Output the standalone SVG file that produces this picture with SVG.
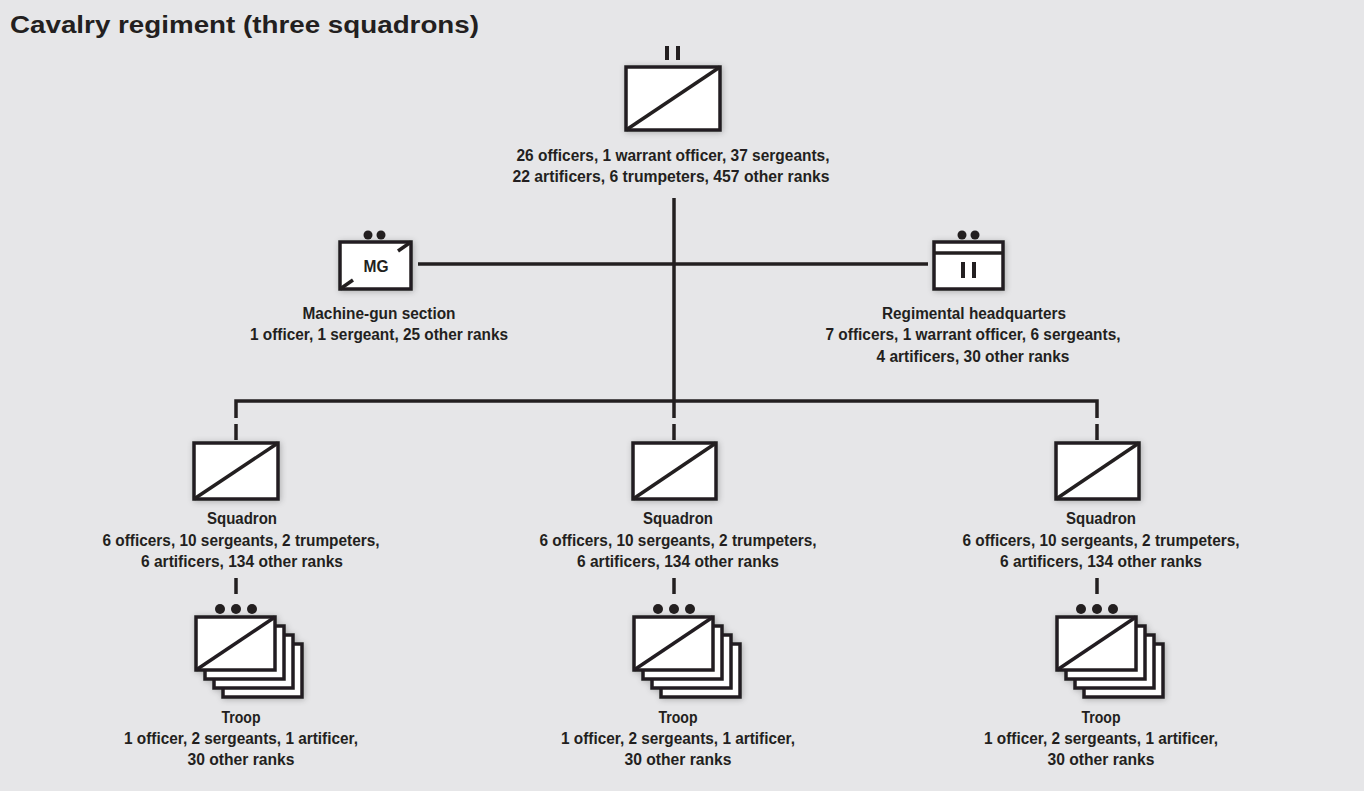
<svg xmlns="http://www.w3.org/2000/svg" width="1364" height="791" viewBox="0 0 1364 791">
<style>
text{font-family:"Liberation Sans",Arial,sans-serif;font-weight:bold;font-size:16px;fill:#231f20;text-anchor:middle}
.b{fill:#fff;stroke:#231f20;stroke-width:3.5}
.l{stroke:#231f20;stroke-width:3.5;fill:none}
.d{fill:#231f20}
</style>
<defs>
<filter id="sh" x="-20%" y="-20%" width="140%" height="140%"><feGaussianBlur in="SourceAlpha" stdDeviation="3"/><feOffset dx="1" dy="1"/><feComponentTransfer><feFuncA type="linear" slope="0.25"/></feComponentTransfer><feMerge><feMergeNode/><feMergeNode in="SourceGraphic"/></feMerge></filter>
<g id="troop">
<rect class="b" x="27" y="27" width="79" height="53"/>
<rect class="b" x="18" y="18" width="79" height="53"/>
<rect class="b" x="9" y="9" width="79" height="53"/>
<rect class="b" x="0" y="0" width="79" height="53"/>
<line class="l" x1="0" y1="53" x2="79" y2="0"/>
</g>
</defs>
<rect width="1364" height="791" fill="#e6e6e8"/>
<text x="10" y="33" style="font-size:24px;text-anchor:start" textLength="469" lengthAdjust="spacingAndGlyphs">Cavalry regiment (three squadrons)</text>
<g id="connectors">
<line class="l" x1="674" y1="198" x2="674" y2="418"/>
<line class="l" x1="418" y1="264" x2="928" y2="264"/>
<polyline class="l" points="236,418 236,401 1097,401 1097,418"/>
<line class="l" x1="236" y1="424" x2="236" y2="440"/>
<line class="l" x1="674" y1="424" x2="674" y2="440"/>
<line class="l" x1="1097" y1="424" x2="1097" y2="440"/>
<line class="l" x1="236" y1="578" x2="236" y2="594"/>
<line class="l" x1="674" y1="578" x2="674" y2="594"/>
<line class="l" x1="1097" y1="578" x2="1097" y2="594"/>
</g>
<g id="regiment">
<rect x="665" y="46" width="4" height="14" class="d"/><rect x="676" y="46" width="4" height="14" class="d"/>
<g filter="url(#sh)"><rect class="b" x="626" y="67" width="94" height="63"/></g>
<line class="l" x1="626" y1="130" x2="720" y2="67"/>
<text x="673" y="161" textLength="313" lengthAdjust="spacingAndGlyphs">26 officers, 1 warrant officer, 37 sergeants,</text>
<text x="671" y="182" textLength="317" lengthAdjust="spacingAndGlyphs">22 artificers, 6 trumpeters, 457 other ranks</text>
</g>
<g id="mg">
<circle class="d" cx="368" cy="235" r="4.5"/><circle class="d" cx="381" cy="235" r="4.5"/>
<g filter="url(#sh)"><rect class="b" x="340" y="242" width="71" height="47"/></g>
<line class="l" x1="398" y1="251" x2="411" y2="242"/><line class="l" x1="340" y1="289" x2="353" y2="280"/>
<text x="376" y="272" textLength="25" lengthAdjust="spacingAndGlyphs">MG</text>
<text x="379" y="319" textLength="153" lengthAdjust="spacingAndGlyphs">Machine-gun section</text>
<text x="379" y="340" textLength="258" lengthAdjust="spacingAndGlyphs">1 officer, 1 sergeant, 25 other ranks</text>
</g>
<g id="hq">
<circle class="d" cx="962" cy="235" r="4.5"/><circle class="d" cx="975" cy="235" r="4.5"/>
<g filter="url(#sh)"><rect class="b" x="934" y="242" width="69" height="47"/></g>
<line class="l" x1="934" y1="253" x2="1003" y2="253"/>
<rect x="961" y="262" width="4" height="16" class="d"/><rect x="972" y="262" width="4" height="16" class="d"/>
<text x="974" y="319" textLength="184" lengthAdjust="spacingAndGlyphs">Regimental headquarters</text>
<text x="973" y="340" textLength="295" lengthAdjust="spacingAndGlyphs">7 officers, 1 warrant officer, 6 sergeants,</text>
<text x="973" y="362" textLength="193" lengthAdjust="spacingAndGlyphs">4 artificers, 30 other ranks</text>
</g>
<g id="sq1" transform="translate(236,0)">
<g filter="url(#sh)"><rect class="b" x="-42" y="443" width="84" height="56"/></g>
<line class="l" x1="-42" y1="499" x2="42" y2="443"/>
<text x="6" y="524" textLength="70" lengthAdjust="spacingAndGlyphs">Squadron</text>
<text x="5" y="546" textLength="277" lengthAdjust="spacingAndGlyphs">6 officers, 10 sergeants, 2 trumpeters,</text>
<text x="6" y="567" textLength="202" lengthAdjust="spacingAndGlyphs">6 artificers, 134 other ranks</text>
</g>
<g id="sq2" transform="translate(674,0)">
<g filter="url(#sh)"><rect class="b" x="-41" y="443" width="83" height="56"/></g>
<line class="l" x1="-41" y1="499" x2="42" y2="443"/>
<text x="4" y="524" textLength="70" lengthAdjust="spacingAndGlyphs">Squadron</text>
<text x="4" y="546" textLength="277" lengthAdjust="spacingAndGlyphs">6 officers, 10 sergeants, 2 trumpeters,</text>
<text x="4" y="567" textLength="202" lengthAdjust="spacingAndGlyphs">6 artificers, 134 other ranks</text>
</g>
<g id="sq3" transform="translate(1097,0)">
<g filter="url(#sh)"><rect class="b" x="-41" y="443" width="83" height="56"/></g>
<line class="l" x1="-41" y1="499" x2="42" y2="443"/>
<text x="4" y="524" textLength="70" lengthAdjust="spacingAndGlyphs">Squadron</text>
<text x="4" y="546" textLength="277" lengthAdjust="spacingAndGlyphs">6 officers, 10 sergeants, 2 trumpeters,</text>
<text x="4" y="567" textLength="202" lengthAdjust="spacingAndGlyphs">6 artificers, 134 other ranks</text>
</g>
<g id="tr1" transform="translate(236,0)">
<circle class="d" cx="-16" cy="609" r="5"/><circle class="d" cx="0" cy="609" r="5"/><circle class="d" cx="16" cy="609" r="5"/>
<use href="#troop" x="-40" y="617" filter="url(#sh)"/>
<text x="5" y="723" textLength="39" lengthAdjust="spacingAndGlyphs">Troop</text>
<text x="5" y="744" textLength="234" lengthAdjust="spacingAndGlyphs">1 officer, 2 sergeants, 1 artificer,</text>
<text x="5" y="765" textLength="107" lengthAdjust="spacingAndGlyphs">30 other ranks</text>
</g>
<g id="tr2" transform="translate(674,0)">
<circle class="d" cx="-16" cy="609" r="5"/><circle class="d" cx="0" cy="609" r="5"/><circle class="d" cx="16" cy="609" r="5"/>
<use href="#troop" x="-40" y="617" filter="url(#sh)"/>
<text x="4" y="723" textLength="39" lengthAdjust="spacingAndGlyphs">Troop</text>
<text x="4" y="744" textLength="234" lengthAdjust="spacingAndGlyphs">1 officer, 2 sergeants, 1 artificer,</text>
<text x="4" y="765" textLength="107" lengthAdjust="spacingAndGlyphs">30 other ranks</text>
</g>
<g id="tr3" transform="translate(1097,0)">
<circle class="d" cx="-16" cy="609" r="5"/><circle class="d" cx="0" cy="609" r="5"/><circle class="d" cx="16" cy="609" r="5"/>
<use href="#troop" x="-40" y="617" filter="url(#sh)"/>
<text x="4" y="723" textLength="39" lengthAdjust="spacingAndGlyphs">Troop</text>
<text x="4" y="744" textLength="234" lengthAdjust="spacingAndGlyphs">1 officer, 2 sergeants, 1 artificer,</text>
<text x="4" y="765" textLength="107" lengthAdjust="spacingAndGlyphs">30 other ranks</text>
</g>
</svg>
